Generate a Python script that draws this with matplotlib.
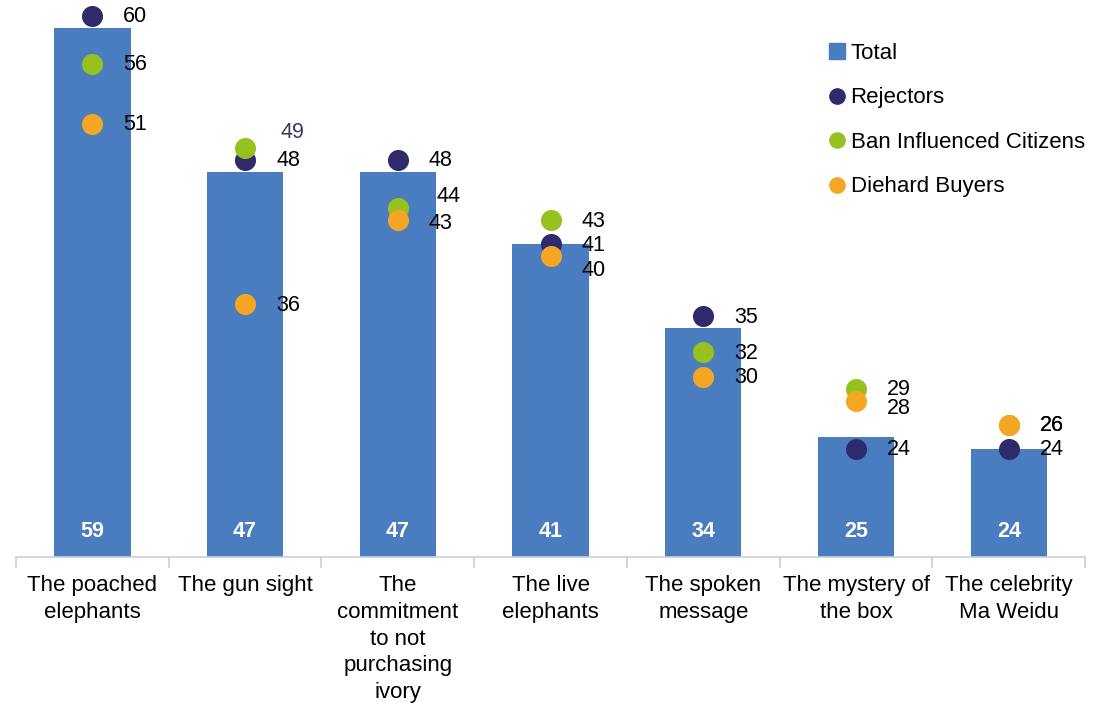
import numpy as np
import matplotlib
matplotlib.use('Agg')
import matplotlib.pyplot as plt
from matplotlib.lines import Line2D
from matplotlib.patches import Patch

plt.rcParams['font.family'] = ['Liberation Sans', 'DejaVu Sans']

## data
categories = ['The poached\nelephants', 'The gun sight',
              'The\ncommitment\nto not\npurchasing\nivory', 'The live\nelephants',
              'The spoken\nmessage', 'The mystery of\nthe box', 'The celebrity\nMa Weidu']
total = [59, 47, 47, 41, 34, 25, 24]
rejectors = [60, 48, 48, 41, 35, 24, 24]
ban_influenced = [56, 49, 44, 43, 32, 29, 26]
diehard = [51, 36, 43, 40, 30, 28, 26]

## colours
c_bar = '#4a7dbf'
c_rej = '#2e2a6c'
c_ban = '#97c11f'
c_die = '#f5a623'

## label nudges in pixels (dx, dy) per series, to mimic the original placement
nudge_rej = [(0, 0)] * 7
nudge_ban = [(0, 0), (4, 16), (8, 13), (0, 0), (0, 0), (0, 0), (0, 0)]
nudge_die = [(0, 0), (0, 0), (0, -2), (0, -13), (0, 0), (0, -7), (0, 0)]

fig = plt.figure(figsize=(11, 7.05), dpi=100)
ax = fig.add_axes([0.0145, 0.21, 0.972, 0.79])

x = np.arange(len(categories))
ax.bar(x, total, width=0.5, color=c_bar, zorder=1)
for xi, v in zip(x, total):
    ax.text(xi, 17.1, str(v), ha='center', va='center', color='white',
            fontsize=15.5, fontweight='bold')

series = [(rejectors, c_rej, nudge_rej),
          (ban_influenced, c_ban, nudge_ban),
          (diehard, c_die, nudge_die)]
for k, (vals, col, nudges) in enumerate(series):
    ax.scatter(x, vals, s=230, color=col, zorder=3, linewidths=0)
    for xi, v, (dx, dy) in zip(x, vals, nudges):
        lc = '#3c3a5c' if (k == 1 and xi == 1) else 'black'
        ax.annotate(str(v), (xi, v), xytext=(31 + dx, dy - 1), textcoords='offset pixels',
                    ha='left', va='center', fontsize=15.5, color=lc, zorder=4)

ax.set_xlim(-0.5, len(categories) - 0.5)
ax.set_ylim(15, 61.3)
ax.set_yticks([])
for s in ['left', 'right', 'top']:
    ax.spines[s].set_visible(False)
ax.spines['bottom'].set_color('#c9cddd')
ax.spines['bottom'].set_linewidth(1.2)

ax.set_xticks(np.arange(-0.5, len(categories)), minor=False)
ax.set_xticklabels([])
ax.tick_params(axis='x', length=8, color='#c9cddd', width=1.2)
ax.set_xticks(x, minor=True)
ax.set_xticklabels(categories, minor=True, fontsize=16, linespacing=1.36, va='top')
ax.tick_params(axis='x', which='minor', length=0, pad=13)

handles = [Patch(color=c_bar),
           Line2D([], [], marker='o', ls='', color=c_rej, markersize=11),
           Line2D([], [], marker='o', ls='', color=c_ban, markersize=11),
           Line2D([], [], marker='o', ls='', color=c_die, markersize=11)]
labels = ['Total', 'Rejectors', 'Ban Influenced Citizens', 'Diehard Buyers']
fig.legend(handles, labels, loc='upper left', bbox_to_anchor=(0.746, 0.952),
           frameon=False, fontsize=16, handlelength=0.7, handletextpad=0.25,
           labelspacing=1.06, borderaxespad=0)

fig.savefig('out.png', dpi=100)
